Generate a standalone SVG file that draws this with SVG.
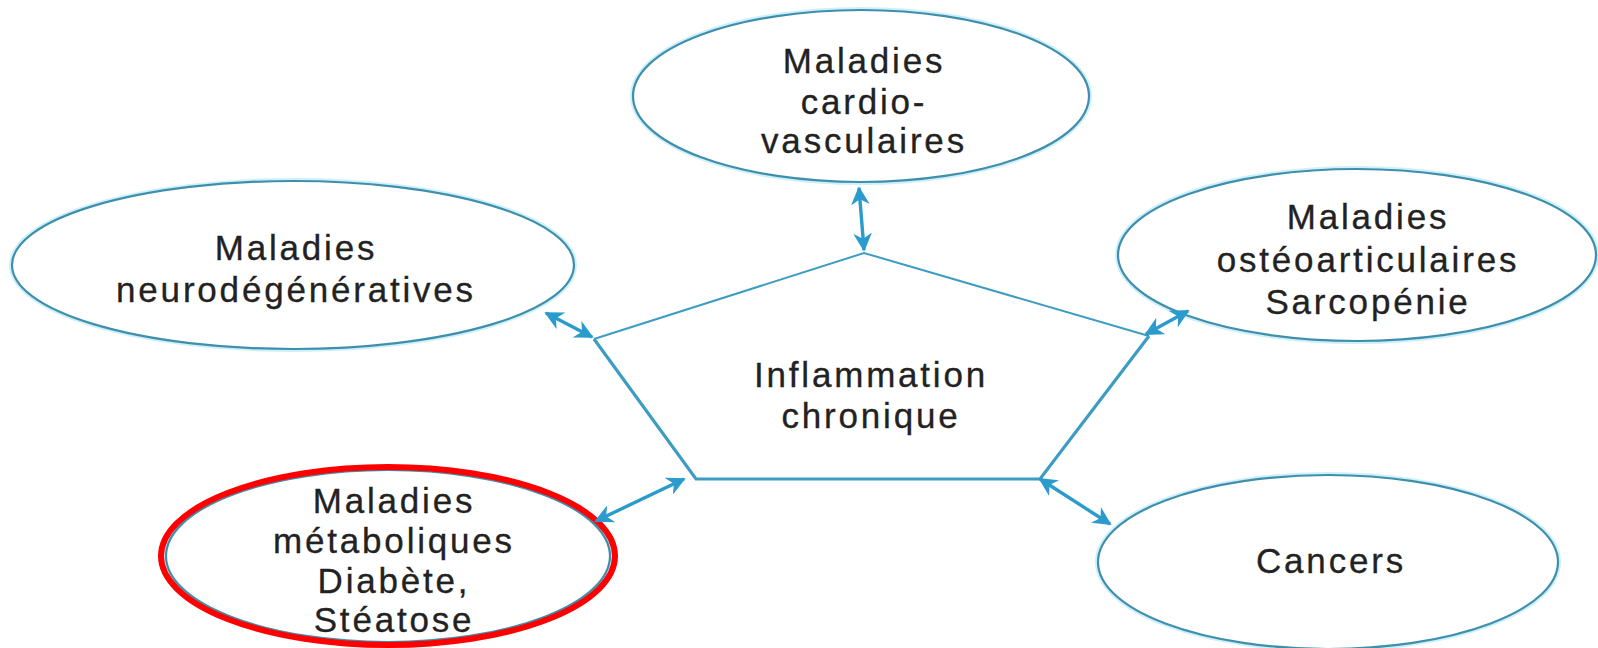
<svg xmlns="http://www.w3.org/2000/svg" width="1598" height="648" viewBox="0 0 1598 648">
<defs>
<marker id="ah" viewBox="0 0 10 10" refX="9" refY="5" markerWidth="5.5" markerHeight="5.5" orient="auto-start-reverse" markerUnits="strokeWidth">
<path d="M0,0 L10,5 L0,10 L3,5 z" fill="#2a9bcc"/>
</marker>
</defs>
<style>
.glow{fill:none;stroke:#cdf0fa;stroke-width:6}
.ell{fill:#ffffff;stroke:#3f8fac;stroke-width:2.2}
.red{fill:none;stroke:#ff0000;stroke-width:6}
.lbl{font-family:"Liberation Sans",Arial,sans-serif;font-size:35px;fill:#222222;text-anchor:middle;letter-spacing:2.8px;stroke:#222222;stroke-width:0.3}
.thin{fill:none;stroke:#3d9cc2;stroke-width:2}
.thick{fill:none;stroke:#3d9cc2;stroke-width:3.2}
.arr{fill:none;stroke:#2a9bcc;stroke-width:3.4;marker-start:url(#ah);marker-end:url(#ah)}
</style>
<rect width="1598" height="648" fill="#ffffff"/>

<g id="node-cardio">
<ellipse class="glow" cx="861" cy="96" rx="228" ry="86"/>
<ellipse class="ell" cx="861" cy="96" rx="228" ry="86"/>
<text class="lbl" x="864" y="73">Maladies</text>
<text class="lbl" x="864" y="114">cardio-</text>
<text class="lbl" x="864" y="153">vasculaires</text>
</g>

<g id="node-neuro">
<ellipse class="glow" cx="293" cy="265" rx="281" ry="84"/>
<ellipse class="ell" cx="293" cy="265" rx="281" ry="84"/>
<text class="lbl" x="296" y="260">Maladies</text>
<text class="lbl" x="296" y="302">neurodégénératives</text>
</g>

<g id="node-osteo">
<ellipse class="glow" cx="1357" cy="255" rx="239" ry="86"/>
<ellipse class="ell" cx="1357" cy="255" rx="239" ry="86"/>
<text class="lbl" x="1368" y="229">Maladies</text>
<text class="lbl" x="1368" y="272">ostéoarticulaires</text>
<text class="lbl" x="1368" y="314">Sarcopénie</text>
</g>

<g id="node-metabo">
<ellipse class="glow" cx="388" cy="556" rx="222" ry="86"/>
<ellipse class="ell" cx="388" cy="556" rx="222" ry="86"/>
<ellipse class="red" cx="388" cy="556" rx="227" ry="89"/>
<text class="lbl" x="394" y="513">Maladies</text>
<text class="lbl" x="394" y="553">métaboliques</text>
<text class="lbl" x="394" y="593">Diabète,</text>
<text class="lbl" x="394" y="632">Stéatose</text>
</g>

<g id="node-cancers">
<ellipse class="glow" cx="1328" cy="562" rx="230" ry="87"/>
<ellipse class="ell" cx="1328" cy="562" rx="230" ry="87"/>
<text class="lbl" x="1331" y="573">Cancers</text>
</g>

<g id="node-inflammation">
<path class="thin" d="M594,339 L864,253 L1149,336"/>
<path class="thick" d="M594,339 L696,479 L1040,479 L1149,336"/>
<text class="lbl" x="871" y="387">Inflammation</text>
<text class="lbl" x="871" y="428">chronique</text>
</g>

<g id="connectors">
<line class="arr" x1="864" y1="250" x2="859" y2="188"/>
<line class="arr" x1="592" y1="337" x2="546" y2="313"/>
<line class="arr" x1="1146" y1="334" x2="1188" y2="311"/>
<line class="arr" x1="684" y1="479" x2="596" y2="521"/>
<line class="arr" x1="1040" y1="479" x2="1110" y2="524"/>
</g>
</svg>
